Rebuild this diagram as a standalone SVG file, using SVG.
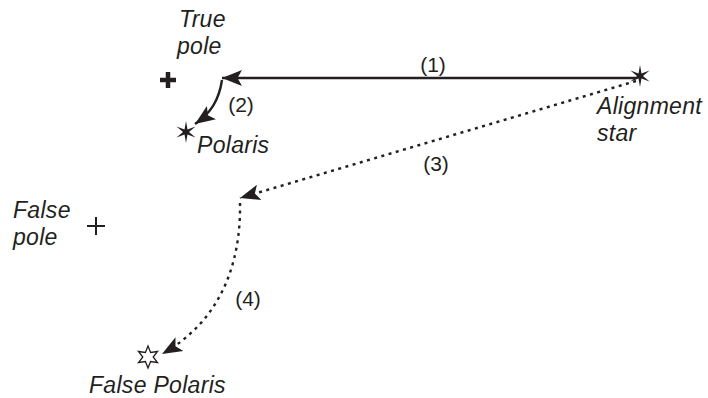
<svg xmlns="http://www.w3.org/2000/svg" xmlns:xlink="http://www.w3.org/1999/xlink" width="708" height="398" viewBox="0 0 708 398">
<style>
.lbl{font-family:"Liberation Sans",Arial,sans-serif;font-size:23px;font-style:italic;fill:#231f20;letter-spacing:0.3px}
.num{font-family:"Liberation Sans",Arial,sans-serif;font-size:21px;fill:#231f20;text-anchor:middle}
.solid{fill:none;stroke:#231f20;stroke-width:2.4}
.dot{fill:none;stroke:#231f20;stroke-width:2.4;stroke-dasharray:3 4.5}
</style>
<defs>
<marker id="ah" markerUnits="userSpaceOnUse" markerWidth="22" markerHeight="18" refX="20" refY="8" orient="auto" viewBox="0 0 22 16">
<path d="M0,0 L20,8 L0,16 L4.5,8 Z" fill="#231f20"/>
</marker>
<polygon id="starF" points="0,-11 1.5,-2.6 9.5,-5.5 3,0 9.5,5.5 1.5,2.6 0,11 -1.5,2.6 -9.5,5.5 -3,0 -9.5,-5.5 -1.5,-2.6" fill="#231f20"/>
<polygon id="starH" points="0,-11 2.6,-4.5 9.5,-5.5 5.2,0 9.5,5.5 2.6,4.5 0,11 -2.6,4.5 -9.5,5.5 -5.2,0 -9.5,-5.5 -2.6,-4.5" fill="#fff" stroke="#231f20" stroke-width="1.3"/>
</defs>
<g id="connectors">
<path class="solid" d="M636,78 L222,78" marker-end="url(#ah)"/>
<path class="solid" d="M222,80 C219,100 211,113 195,124" marker-end="url(#ah)"/>
<path class="dot" d="M636,81 L240,198" marker-end="url(#ah)"/>
<path class="dot" d="M240,203 C241,262 222,320 162,354" marker-end="url(#ah)"/>
</g>
<g id="true-pole">
<path d="M160,80 H176 M168,72 V88" stroke="#231f20" stroke-width="4.5"/>
<text class="lbl" x="179" y="27">True</text>
<text class="lbl" x="177" y="54">pole</text>
</g>
<g id="alignment-star">
<use xlink:href="#starF" x="640" y="76"/>
<text class="lbl" x="597" y="114">Alignment</text>
<text class="lbl" x="597" y="141">star</text>
</g>
<g id="polaris">
<use xlink:href="#starF" x="186" y="132"/>
<text class="lbl" x="197" y="153">Polaris</text>
</g>
<g id="false-pole">
<path d="M87,226 H105 M96,217 V235" stroke="#231f20" stroke-width="2"/>
<text class="lbl" x="13" y="218">False</text>
<text class="lbl" x="13" y="245">pole</text>
</g>
<g id="false-polaris">
<use xlink:href="#starH" x="148" y="357"/>
<text class="lbl" x="89" y="393">False Polaris</text>
</g>
<g id="labels">
<text class="num" x="433" y="72">(1)</text>
<text class="num" x="241" y="112">(2)</text>
<text class="num" x="436" y="171">(3)</text>
<text class="num" x="248" y="306">(4)</text>
</g>
</svg>
